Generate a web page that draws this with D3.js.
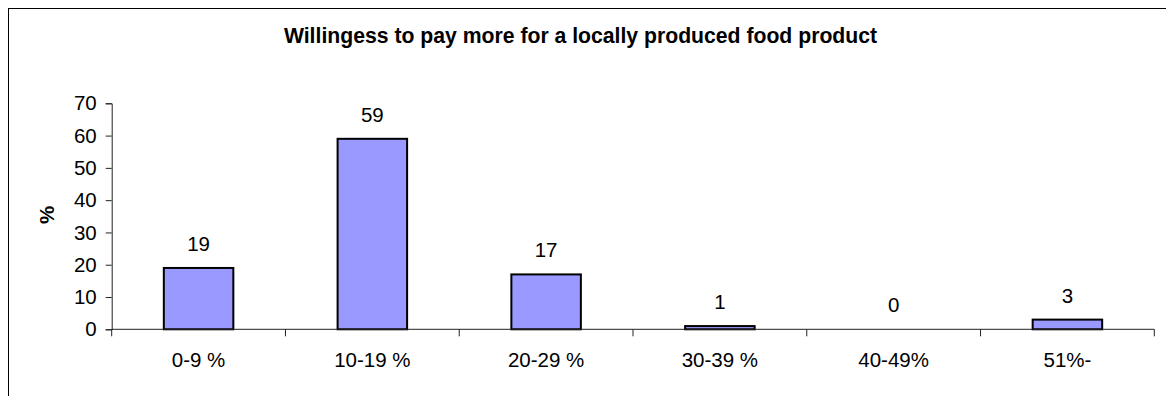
<!DOCTYPE html>
<html>
<head>
<meta charset="utf-8">
<script src="https://cdn.jsdelivr.net/npm/d3@7"></script>
<style>
  html, body { margin: 0; padding: 0; background: #fff; }
  svg { display: block; font-family: "Liberation Sans", Arial, sans-serif; }
</style>
</head>
<body>
<svg id="chart" width="1166" height="396"></svg>
<script>
// Survey answers: share of respondents per extra-price band
const categories = ["0-9 %", "10-19 %", "20-29 %", "30-39 %", "40-49%", "51%-"];
const values = [19, 59, 17, 1, 0, 3];
const yTicks = [0, 10, 20, 30, 40, 50, 60, 70];
const titleText = "Willingess to pay more for a locally produced food product";
const yLabel = "%";

const FONT = 20.5;
const svg = d3.select("#chart");

// chart frame
svg.append("rect")
  .attr("x", 8.5).attr("y", 8.5)
  .attr("width", 1200).attr("height", 500)
  .attr("fill", "none").attr("stroke", "#000").attr("stroke-width", 1);

const plot = { left: 111.7, right: 1154.3, top: 103.3, bottom: 329.3 };

const x = d3.scaleBand()
  .domain(categories)
  .range([plot.left, plot.right])
  .paddingInner(0.6)
  .paddingOuter(0.3);

const xOuter = d3.scaleBand()
  .domain(categories)
  .range([plot.left, plot.right]);

const y = d3.scaleLinear().domain([0, 70]).range([plot.bottom, plot.top]);

// title
svg.append("text")
  .attr("x", 580.5).attr("y", 42.7)
  .attr("text-anchor", "middle")
  .attr("font-weight", "bold")
  .attr("font-size", 21.2)
  .text(titleText);

// y axis
const yAxis = svg.append("g")
  .attr("transform", `translate(${plot.left},0)`)
  .call(d3.axisLeft(y).tickValues(yTicks).tickSize(6).tickPadding(9));
yAxis.select(".domain").attr("stroke", "#222");
yAxis.selectAll(".tick line").attr("stroke", "#222");
yAxis.selectAll(".tick text")
  .attr("font-size", FONT).attr("fill", "#000")
  .attr("font-family", "Liberation Sans, Arial, sans-serif");

// y axis title
svg.append("text")
  .attr("transform", "translate(54,215) rotate(-90)")
  .attr("text-anchor", "middle")
  .attr("font-weight", "bold")
  .attr("font-size", FONT)
  .text(yLabel);

// bars
svg.append("g").selectAll("rect")
  .data(values)
  .join("rect")
  .attr("x", (d, i) => x(categories[i]))
  .attr("y", d => y(d))
  .attr("width", x.bandwidth())
  .attr("height", d => plot.bottom - y(d))
  .attr("fill", "#9999FF")
  .attr("stroke", "#000")
  .attr("stroke-width", 2);

// x axis baseline with category separators
const xAxisG = svg.append("g");
xAxisG.append("line")
  .attr("x1", plot.left).attr("x2", plot.right)
  .attr("y1", plot.bottom).attr("y2", plot.bottom)
  .attr("stroke", "#222");
const boundaries = categories.map(c => xOuter(c)).concat([plot.right]);
xAxisG.selectAll("line.sep")
  .data(boundaries)
  .join("line")
  .attr("class", "sep")
  .attr("x1", d => d).attr("x2", d => d)
  .attr("y1", plot.bottom).attr("y2", plot.bottom + 7)
  .attr("stroke", "#222");

// category labels
svg.append("g").selectAll("text")
  .data(categories)
  .join("text")
  .attr("x", c => xOuter(c) + xOuter.bandwidth() / 2)
  .attr("y", 366.7)
  .attr("text-anchor", "middle")
  .attr("font-size", FONT)
  .text(c => c);

// value labels
svg.append("g").selectAll("text")
  .data(values)
  .join("text")
  .attr("x", (d, i) => x(categories[i]) + x.bandwidth() / 2)
  .attr("y", d => y(d) - 17)
  .attr("text-anchor", "middle")
  .attr("font-size", FONT)
  .text(d => d);
</script>
</body>
</html>
